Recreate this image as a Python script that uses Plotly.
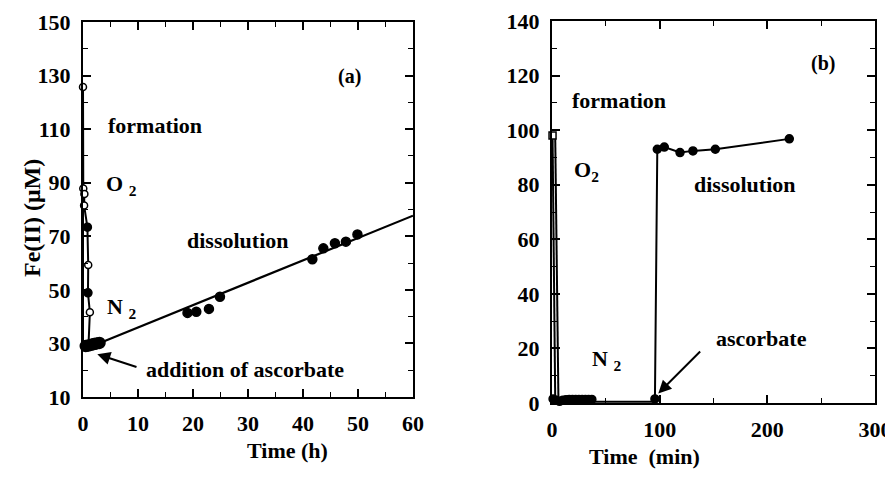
import plotly.graph_objects as go

# ---------------- Panel (a): time in hours ----------------
a_form_t = [0.0, 0.05, 0.25, 0.2, 0.8, 0.95, 0.9, 1.25]
a_form_fe = [125.7, 87.8, 85.8, 81.5, 73.4, 59.3, 48.9, 41.6]
a_form_open = [True, True, True, True, False, True, False, True]
a_form_line_t = [0.0, 0.05, 0.25, 0.2, 0.8, 0.95, 0.9, 1.25, 1.0]
a_form_line_fe = [125.7, 87.8, 85.8, 81.5, 73.4, 59.3, 48.9, 41.6, 29.5]
a_drop_t = [0.0, 0.0, 0.5]
a_drop_fe = [125.7, 29.0, 29.0]
a_n2_t = [0.5, 1.0, 1.5, 2.0, 2.5, 3.0]
a_n2_fe = [29.0, 29.2, 29.5, 29.8, 30.0, 30.2]
a_diss_t = [19.0, 20.6, 22.9, 24.9, 41.7, 43.7, 45.8, 47.8, 49.9]
a_diss_fe = [41.4, 41.8, 42.9, 47.4, 61.4, 65.5, 67.4, 68.0, 70.7]
a_fit_t = [2.5, 60.0]
a_fit_fe = [29.7, 77.7]

# ---------------- Panel (b): time in minutes ----------------
b_form1_t = [0.5, 3.0]
b_form1_fe = [98.0, 1.0]
b_form2_t = [3.0, 6.0]
b_form2_fe = [97.0, 0.5]
b_n2_t = [1, 4, 7, 10, 13, 16, 19, 22, 25, 28, 31, 34, 37]
b_n2_fe = [1.5, 1.0, 0.6, 1.0, 1.2, 1.3, 1.3, 1.3, 1.3, 1.3, 1.3, 1.3, 1.3]
b_base_t = [37, 95.6]
b_base_fe = [0.5, 0.5]
b_diss_t = [95.6, 97.8, 104.3, 118.9, 130.9, 151.7, 220.4]
b_diss_fe = [1.5, 93.0, 93.8, 91.8, 92.4, 93.0, 96.8]

a_xticks = [0, 10, 20, 30, 40, 50, 60]
a_yticks = [10, 30, 50, 70, 90, 110, 130, 150]
b_xticks = [0, 100, 200, 300]
b_yticks = [0, 20, 40, 60, 80, 100, 120, 140]

FONT = "Liberation Serif"
BLK = "black"
W, H = 893, 480
OFF = 8     # page body margin offsets the figure by 8 px
M = 12      # figure margin on every side
PW, PH = W - 2 * M, H - 2 * M

def px_x(p):
    return (p - OFF - M) / PW

def px_y(p):
    return 1 - (p - OFF - M) / PH

fig = go.Figure()

def line(x, y, xa, ya, w=2):
    fig.add_trace(go.Scatter(x=x, y=y, mode="lines", xaxis=xa, yaxis=ya,
                             line=dict(color=BLK, width=w), cliponaxis=False,
                             showlegend=False, hoverinfo="skip"))

def pts(x, y, xa, ya, size=8, symbol="circle", open_=False):
    fig.add_trace(go.Scatter(x=x, y=y, mode="markers", xaxis=xa, yaxis=ya,
                             marker=dict(size=size, symbol=symbol,
                                         color="white" if open_ else BLK,
                                         line=dict(color=BLK, width=1.5)),
                             cliponaxis=False, showlegend=False))

# Panel a
line(a_drop_t, a_drop_fe, "x", "y")
line(a_form_line_t, a_form_line_fe, "x", "y")
pts([t for t, o in zip(a_form_t, a_form_open) if o],
    [f for f, o in zip(a_form_fe, a_form_open) if o], "x", "y", size=7, open_=True)
pts([t for t, o in zip(a_form_t, a_form_open) if not o],
    [f for f, o in zip(a_form_fe, a_form_open) if not o], "x", "y", size=8)
line(a_fit_t, a_fit_fe, "x", "y", w=2.2)
pts(a_n2_t, a_n2_fe, "x", "y", size=11)
pts(a_diss_t, a_diss_fe, "x", "y", size=9)

# Panel b
line(b_form1_t, b_form1_fe, "x2", "y2")
line(b_form2_t, b_form2_fe, "x2", "y2")
pts([b_form1_t[0]], [b_form1_fe[0]], "x2", "y2", size=7, symbol="square", open_=True)
line(b_n2_t, b_n2_fe, "x2", "y2", w=5)
pts(b_n2_t, b_n2_fe, "x2", "y2", size=8)
line(b_base_t, b_base_fe, "x2", "y2")
line(b_diss_t, b_diss_fe, "x2", "y2")
pts(b_diss_t, b_diss_fe, "x2", "y2", size=8)

tickfont = dict(family=FONT, size=22, color=BLK, weight="bold")

def axis(domain, rng, tickvals, dtick_minor, anchor):
    return dict(domain=domain, range=rng, anchor=anchor, tickmode="array",
                tickvals=tickvals, ticks="inside", ticklen=8, tickwidth=1.5,
                tickcolor=BLK, showline=True, linecolor=BLK, linewidth=2,
                mirror="ticks", showgrid=False, zeroline=False,
                automargin=False, ticklabeloverflow="allow",
                tickfont=tickfont, ticklabelstandoff=6,
                minor=dict(ticks="inside", ticklen=5, tickwidth=1.2,
                           tickcolor=BLK, dtick=dtick_minor, tick0=0,
                           showgrid=False))

fig.update_layout(
    width=W, height=H,
    margin=dict(l=M, r=M, t=M, b=M, autoexpand=False),
    paper_bgcolor="white", plot_bgcolor="white",
    xaxis=axis([px_x(83), px_x(413)], [0, 60], a_xticks, 5, "y"),
    yaxis=axis([px_y(397), px_y(22)], [10, 150], a_yticks, 10, "x"),
    xaxis2=axis([px_x(552), px_x(875)], [0, 300], b_xticks, 50, "y2"),
    yaxis2=axis([px_y(403), px_y(21)], [0, 140], b_yticks, 10, "x2"),
)

tf = dict(family=FONT, size=22, color=BLK, weight="bold")

def note(text, x, y, xr, yr, font=tf, **kw):
    fig.add_annotation(text=text, x=x, y=y, xref=xr, yref=yr,
                       showarrow=False, font=font, **kw)

# Panel a labels
note("(a)", 48.4, 129.5, "x", "y", font=dict(tf, size=20))
note("formation", 13.0, 111.2, "x", "y")
note("O <sub>2</sub>", 7.0, 89.1, "x", "y")
note("dissolution", 28.2, 68.6, "x", "y")
note("N <sub>2</sub>", 7.0, 43.2, "x", "y")
note("addition of ascorbate", 29.4, 20.1, "x", "y")
fig.add_annotation(x=2.6, y=26.0, ax=10.0, ay=21.0, xref="x", yref="y",
                   axref="x", ayref="y", showarrow=True, arrowhead=2,
                   arrowsize=1.3, arrowwidth=2, arrowcolor=BLK, text="")
note("Time (h)", px_x(245), px_y(465), "paper", "paper")
note("Fe(II) (μM)", px_x(17), px_y(218), "paper", "paper",
     font=dict(tf, size=24), textangle=-90)

# Panel b labels
note("(b)", 251.4, 124.5, "x2", "y2", font=dict(tf, size=20))
note("formation", 62.5, 111.0, "x2", "y2")
note("O<sub>2</sub>", 32.0, 85.0, "x2", "y2")
note("dissolution", 179.0, 80.0, "x2", "y2")
note("N <sub>2</sub>", 50.8, 15.8, "x2", "y2")
note("ascorbate", 194.7, 23.7, "x2", "y2")
fig.add_annotation(x=98.7, y=3.5, ax=139.0, ay=19.4, xref="x2", yref="y2",
                   axref="x2", ayref="y2", showarrow=True, arrowhead=2,
                   arrowsize=1.3, arrowwidth=2, arrowcolor=BLK, text="")
note("Time  (min)", px_x(701.7), px_y(470.7), "paper", "paper")

fig.write_html("out.html")
